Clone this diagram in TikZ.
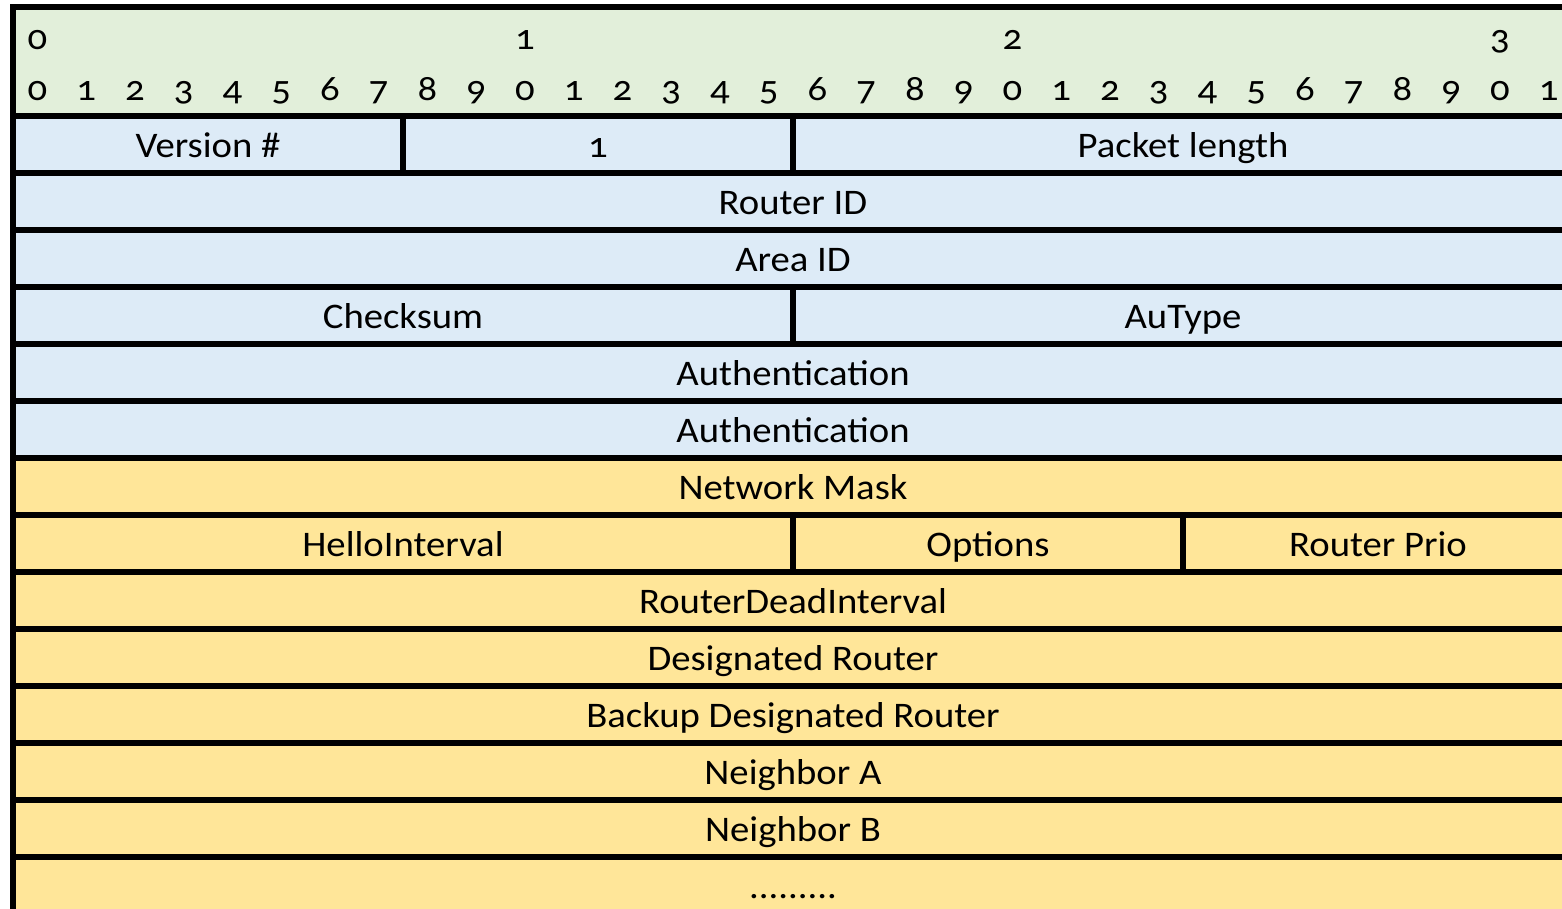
\documentclass[tikz,border=0pt]{standalone}
\usepackage{fontspec}
\setmainfont{Carlito}[Numbers=OldStyle, FakeStretch=1.075]
\definecolor{hdrgreen}{HTML}{E2EFDA}
\definecolor{hdrblue}{HTML}{DDEBF7}
\definecolor{helloyellow}{HTML}{FFE699}
\begin{document}
\begin{tikzpicture}[x=1pt,y=-1pt,
  cell/.style={draw=black, line width=6pt, inner sep=0pt, outer sep=0pt,
    anchor=north west, minimum height=57pt, text height=25pt, text depth=0pt,
    font=\fontsize{36}{42}\selectfont},
  ospf/.style={cell, fill=hdrblue},
  hello/.style={cell, fill=helloyellow},
  bitnum/.style={inner sep=0pt, anchor=base, font=\fontsize{36}{42}\selectfont}]
\useasboundingbox (0,0) rectangle (1562,908);
\clip (0,0) rectangle (1562,908);
% bit ruler
\node[cell, fill=hdrgreen, minimum width=1560pt, minimum height=109pt] (ruler) at (13,7) {};
\foreach \t in {0,1,2,3}
  \node[bitnum] (tens\t) at ({13+(10*\t+0.5)*48.75},49) {\t};
\foreach \b in {0,...,31}{
  \pgfmathtruncatemacro{\d}{mod(\b,10)}
  \node[bitnum] (bit\b) at ({13+(\b+0.5)*48.75},100) {\d};
}
% OSPF common header
\node[ospf, minimum width=390pt] (version) at (13,116) {Version \#};
\node[ospf, minimum width=390pt] (type) at (403,116) {1};
\node[ospf, minimum width=780pt] (pktlen) at (793,116) {Packet length};
\node[ospf, minimum width=1560pt] (routerid) at (13,173) {Router ID};
\node[ospf, minimum width=1560pt] (areaid) at (13,230) {Area ID};
\node[ospf, minimum width=780pt] (checksum) at (13,287) {Checksum};
\node[ospf, minimum width=780pt] (autype) at (793,287) {AuType};
\node[ospf, minimum width=1560pt] (auth1) at (13,344) {Authentication};
\node[ospf, minimum width=1560pt] (auth2) at (13,401) {Authentication};
% Hello body
\node[hello, minimum width=1560pt] (netmask) at (13,458) {Network Mask};
\node[hello, minimum width=780pt] (hellointv) at (13,515) {HelloInterval};
\node[hello, minimum width=390pt] (options) at (793,515) {Options};
\node[hello, minimum width=390pt] (prio) at (1183,515) {Router Prio};
\node[hello, minimum width=1560pt] (deadintv) at (13,572) {RouterDeadInterval};
\node[hello, minimum width=1560pt] (dr) at (13,629) {Designated Router};
\node[hello, minimum width=1560pt] (bdr) at (13,686) {Backup Designated Router};
\node[hello, minimum width=1560pt] (nbra) at (13,743) {Neighbor A};
\node[hello, minimum width=1560pt] (nbrb) at (13,800) {Neighbor B};
\node[hello, minimum width=1560pt] (more) at (13,857) {.........};
\end{tikzpicture}
\end{document}
